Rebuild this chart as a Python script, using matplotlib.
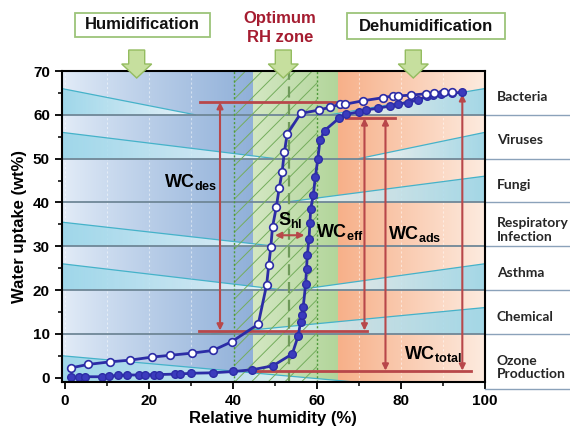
import numpy as np
import matplotlib
matplotlib.use("Agg")
import matplotlib.pyplot as plt
from matplotlib.patches import Polygon, Rectangle
from matplotlib.colors import to_rgb

plt.rcParams['font.family'] = ['Liberation Sans', 'DejaVu Sans']
plt.rcParams['mathtext.fontset'] = 'custom'
plt.rcParams['mathtext.rm'] = 'Liberation Sans'
plt.rcParams['mathtext.bf'] = 'Liberation Sans:bold'
plt.rcParams['hatch.linewidth'] = 0.7

# ---------------- data ----------------
des_rh = [1.3, 5.4, 10.7, 15.5, 20.8, 25.1, 30.3, 35.2, 39.7, 46.0, 48.0, 48.5, 49.0, 49.4,
          50.3, 51.0, 51.7, 52.2, 52.9, 56.1, 60.5, 63.0, 65.4, 66.6, 70.9, 75.7, 78.0, 79.2,
          82.4, 86.0, 87.9, 90.3, 92.2]
des_wc = [2.2, 3.0, 3.6, 4.0, 4.7, 5.1, 5.6, 6.2, 8.2, 12.2, 21.2, 25.6, 29.8, 34.4,
          38.9, 43.3, 47.0, 51.4, 55.6, 60.3, 61.1, 61.7, 62.4, 62.4, 63.2, 63.9, 64.3, 64.3,
          64.5, 64.8, 64.9, 65.1, 65.2]

ads_rh = [1.4, 3.4, 4.8, 8.9, 10.5, 12.5, 14.7, 17.6, 19.0, 21.2, 22.4, 26.1, 27.3, 29.9,
          35.2, 40.1, 44.6, 49.5, 54.1, 55.5, 56.1, 56.5, 56.7, 57.3, 57.5, 57.7, 58.1, 58.3,
          58.5, 59.1, 59.6, 60.2, 60.7, 61.8, 65.2, 67.0, 70.0, 71.7, 74.5, 77.3, 79.2, 81.6,
          84.0, 86.3, 87.5, 89.5, 92.2, 94.5]
ads_wc = [0.1, 0.1, 0.2, 0.2, 0.3, 0.5, 0.6, 0.6, 0.6, 0.7, 0.7, 0.8, 0.8, 1.0,
          1.1, 1.4, 1.8, 2.7, 5.4, 9.5, 12.7, 14.4, 16.1, 21.4, 24.9, 28.1, 31.7, 35.2,
          38.6, 41.6, 45.8, 50.0, 54.2, 56.4, 59.2, 60.1, 60.7, 61.1, 61.5, 62.0, 62.4, 62.8,
          63.4, 64.3, 64.5, 64.7, 65.0, 65.1]

categories = ['Bacteria', 'Viruses', 'Fungi', 'Respiratory\nInfection', 'Asthma', 'Chemical',
              'Ozone\nProduction']
category_label_y = [64.1, 54.2, 44.0, 33.7, 23.8, 13.9, 2.3]
band_lines = [60, 50, 40, 30, 20, 10]

# risk wedges: (band base, height at wide end, RH where risk vanishes)
low_rh_wedges = [(60, 6.0, 31), (50, 6.0, 50), (30, 5.5, 50), (20, 6.0, 52), (-1, 6.0, 69)]
high_rh_wedges = [(60, 6.0, 63), (50, 6.0, 70), (40, 6.0, 52), (20, 6.0, 55), (10, 6.0, 35)]

# zones
humid_end = 44.7
optimum_hatch = (40.2, 60.0)
optimum_dash = 53.3
dehumid_start = 65.0

# capacity markers
wc_des_top, wc_des_bot = 62.9, 10.75
wc_eff_top, wc_bot_total = 59.2, 1.6
wc_total_top = 64.7

# ---------------- figure ----------------
W, H = 570, 428
fig = plt.figure(figsize=(W / 100, H / 100), dpi=100)
ax = fig.add_axes([61.7 / W, 1 - 382 / H, (485 - 61.7) / W, (382 - 71) / H])
XL, YL = (-0.8, 100), (-1, 70)


def hgrad(x0, x1, c0, c1, z=0, gamma=1.0):
    c0, c1 = np.array(to_rgb(c0)), np.array(to_rgb(c1))
    t = (np.linspace(0, 1, 256) ** gamma)[None, :, None]
    img = c0 + (c1 - c0) * t
    ax.imshow(img, extent=(x0, x1, YL[0], YL[1]), aspect='auto', zorder=z,
              interpolation='bilinear')


hgrad(XL[0], humid_end, '#e4edf8', '#90b0d9', gamma=0.85)
hgrad(humid_end, dehumid_start, '#d3e7c2', '#b2d59a')
hgrad(dehumid_start, 100, '#f7b089', '#fdebdf')

# vertical faint grid
for gx in [0, 10, 20, 30, 70, 80, 90]:
    ax.axvline(gx, color='white', lw=0.8, ls=(0, (2, 2)), alpha=0.5, zorder=0.5)

# wedges: cyan at the wide end fading to white at the tip
wedge_c0 = np.array(to_rgb('#94d4e8'))
wedge_c1 = np.array(to_rgb('#f4fbfd'))


def wedge(xwide, xtip, ybase, h):
    poly = Polygon([(xwide, ybase), (xwide, ybase + h), (xtip, ybase)], closed=True,
                   transform=ax.transData, facecolor='none', edgecolor='none')
    ax.add_patch(poly)
    n = 256
    t = np.linspace(0, 1, n)
    if xtip < xwide:
        t = t[::-1]
    img = np.zeros((1, n, 4))
    img[0, :, :3] = wedge_c0 + (wedge_c1 - wedge_c0) * t[:, None]
    img[..., 3] = 0.85
    x0, x1 = min(xwide, xtip), max(xwide, xtip)
    im = ax.imshow(img, extent=(x0, x1, ybase, ybase + h), aspect='auto', zorder=1,
                   interpolation='bilinear')
    im.set_clip_path(poly)
    ax.plot([xwide, xtip], [ybase + h, ybase], color='#45b2c9', lw=0.9, zorder=1.2)


for base, h, tip in low_rh_wedges:
    wedge(XL[0], tip, base, h)
for base, h, tip in high_rh_wedges:
    wedge(100, tip, base, h)

# band lines
for y in band_lines:
    ax.plot([XL[0], 100], [y, y], color='#6f8797', lw=1.3, zorder=2)
    ax.plot([100, 121], [y, y], color='#8ba2ba', lw=1.0, zorder=2, clip_on=False)
ax.plot([100, 121], [-2.7, -2.7], color='#8ba2ba', lw=1.0, zorder=2, clip_on=False)

# optimum zone hatch
ax.add_patch(Rectangle((optimum_hatch[0], YL[0]), optimum_hatch[1] - optimum_hatch[0],
                       YL[1] - YL[0], facecolor='none', edgecolor='#74ad5c', lw=0,
                       hatch='//', zorder=2.5))
for vx in optimum_hatch:
    ax.axvline(vx, color='#4f9a3c', lw=1.0, ls=(0, (1.5, 1.5)), zorder=3)
ax.axvline(optimum_dash, color='#6f9a5a', lw=1.6, ls=(0, (5, 3)), zorder=3)

# red capacity lines and arrows
red = '#b8474a'
ax.plot([32.2, 64.3], [wc_des_top, wc_des_top], color=red, lw=2, zorder=4)
ax.plot([31.8, 72.0], [wc_des_bot, wc_des_bot], color=red, lw=2, zorder=4)
ax.plot([67.0, 78.6], [wc_eff_top, wc_eff_top], color=red, lw=2, zorder=4)
ax.plot([45.6, 96.6], [wc_bot_total, wc_bot_total], color=red, lw=2, zorder=4)


def darrow(x0, y0, x1, y1):
    ax.annotate('', xy=(x1, y1), xytext=(x0, y0),
                arrowprops=dict(arrowstyle='<|-|>', color=red, lw=1.5, mutation_scale=9,
                                shrinkA=0, shrinkB=0), zorder=4)


darrow(36.9, wc_des_top, 36.9, wc_des_bot)
darrow(71.3, wc_eff_top, 71.3, wc_des_bot)
darrow(76.3, wc_eff_top, 76.3, wc_bot_total)
darrow(94.6, wc_total_top, 94.6, wc_bot_total)
darrow(50.0, 32.5, 57.0, 32.5)

# isotherms
blue = '#2c2ca6'
ax.plot(ads_rh, ads_wc, '-o', color=blue, lw=2, ms=5.5, mfc='#3b3bbd', mec=blue, mew=1.0,
        zorder=5, clip_on=False)
ax.plot(des_rh, des_wc, '-o', color=blue, lw=2, ms=5.5, mfc='white', mec=blue, mew=1.2,
        zorder=5.5, clip_on=False)

# texts in plot
tk = dict(fontsize=13, fontweight='bold', color='black', zorder=6)
ax.text(23.6, 44.7, r'$\mathbf{WC}_{\mathbf{des}}$', va='center', ha='left', **tk)
ax.text(50.6, 36.0, r'$\mathbf{S}_{\mathbf{hl}}$', va='center', ha='left', **tk)
ax.text(59.8, 33.3, r'$\mathbf{WC}_{\mathbf{eff}}$', va='center', ha='left', **tk)
ax.text(77.0, 32.9, r'$\mathbf{WC}_{\mathbf{ads}}$', va='center', ha='left', **tk)
ax.text(80.8, 5.4, r'$\mathbf{WC}_{\mathbf{total}}$', va='center', ha='left', **tk)

# category labels
for lab, y in zip(categories, category_label_y):
    ax.text(102.8, y, lab, ha='left', va='center', fontsize=10, fontweight='bold',
            family=['Lato', 'DejaVu Sans'], color='#262626', linespacing=1.15, clip_on=False)

# axes styling
ax.set_xlim(*XL)
ax.set_ylim(*YL)
ax.set_xticks([0, 20, 40, 60, 80, 100])
ax.set_xticks([10, 30, 50, 70, 90], minor=True)
ax.set_yticks(range(0, 71, 10))
ax.set_yticks(range(5, 70, 10), minor=True)
ax.tick_params(which='major', direction='out', length=5, width=1.3, labelsize=11)
ax.tick_params(which='minor', direction='out', length=3, width=1.1)
for lab in ax.get_xticklabels() + ax.get_yticklabels():
    lab.set_fontweight('bold')
for s in ax.spines.values():
    s.set_linewidth(1.5)
    s.set_zorder(7)
ax.set_xlabel('Relative humidity (%)', fontsize=12, fontweight='bold', labelpad=2)
ax.set_ylabel('Water uptake (wt%)', fontsize=12, fontweight='bold', labelpad=4)

# top annotations (figure pixel coordinates, origin top-left)
def fx(px):
    return px / W


def fy(py):
    return 1 - py / H


for (x0, y0, x1, y1, label) in [(75, 12.7, 210, 36.7, 'Humidification'),
                                (346.7, 13.3, 505, 39.3, 'Dehumidification')]:
    fig.patches.append(Rectangle((fx(x0), fy(y1)), fx(x1) - fx(x0), fy(y0) - fy(y1),
                                 transform=fig.transFigure, facecolor='white',
                                 edgecolor='#9cc47a', lw=1.3))
    fig.text(fx((x0 + x1) / 2), fy((y0 + y1) / 2), label, ha='center', va='center',
             fontsize=12, fontweight='bold', color='#111111')

fig.text(fx(280), fy(28), 'Optimum\nRH zone', ha='center', va='center', fontsize=12,
         fontweight='bold', color='#a51c30', linespacing=1.3)

for cx in [136.7, 283.3, 413.3]:
    pts = [(cx - 8, 50), (cx + 8, 50), (cx + 8, 64), (cx + 15, 64), (cx, 78),
           (cx - 15, 64), (cx - 8, 64)]
    fig.patches.append(Polygon([(fx(a), fy(b)) for a, b in pts], closed=True,
                               transform=fig.transFigure, facecolor='#c6df9e',
                               edgecolor='#94bc60', lw=1.0, zorder=10))

fig.savefig('out.png', dpi=100)
